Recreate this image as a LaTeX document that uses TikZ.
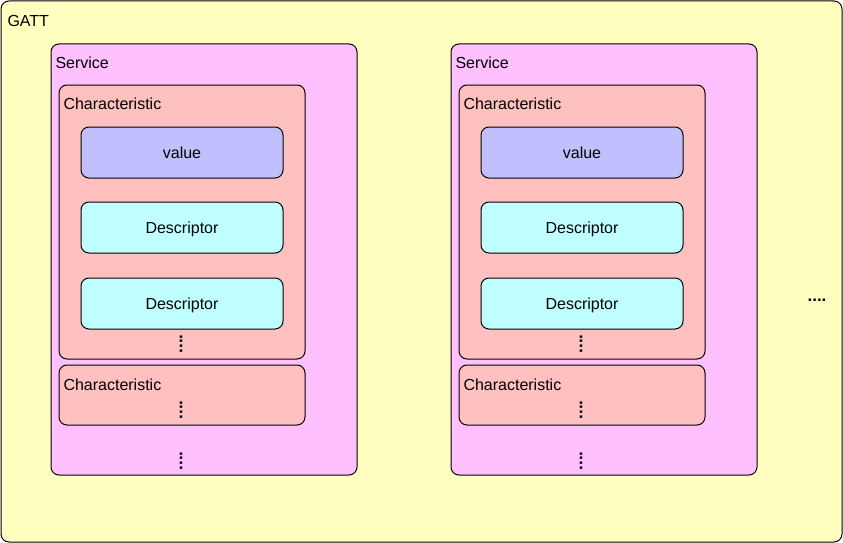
\documentclass[tikz,border=0pt]{standalone}
\usepackage{fontspec}
\setmainfont{Liberation Sans}
\usetikzlibrary{positioning}

\definecolor{gattyellow}{HTML}{FFFFC0}
\definecolor{servicepink}{HTML}{FFC0FF}
\definecolor{charred}{HTML}{FFC0C0}
\definecolor{valueblue}{HTML}{C0C0FF}
\definecolor{desccyan}{HTML}{C0FFFF}

\begin{document}
\begin{tikzpicture}[x=1pt,y=-1pt,line width=1pt,node distance=23pt,
    box/.style={draw,rounded corners=8pt,inner sep=0pt},
    gatt box/.style={box,fill=gattyellow,minimum width=841pt,minimum height=541pt},
    service box/.style={box,fill=servicepink,minimum width=306pt,minimum height=431pt},
    char box/.style={box,fill=charred,minimum width=246pt},
    value box/.style={box,fill=valueblue,minimum width=202pt,minimum height=51pt,text height=12.6pt,text depth=0pt},
    desc box/.style={box,fill=desccyan,minimum width=202pt,minimum height=51pt,text height=12.6pt,text depth=0pt},
    title/.style={anchor=west,inner sep=0pt},
    vdots/.style={rotate=90,inner sep=0pt,font=\fontsize{17}{18}\bfseries},
    every node/.style={font=\fontsize{16}{18}\selectfont}]

            \useasboundingbox (0,0) rectangle (843,543);

            % outer box
            \node[gatt box] (gatt) at (421.5,271.5) {};
            \node[title] (gattlabel) at (7,21) {GATT};

            % first service
            \node[service box] (srv1) at (204,259.5) {};
            \node[title] (srv1label) at (55,62.5) {Service};
            \node[char box,minimum height=274pt] (chA1) at (182,222) {};
            \node[title] (chA1label) at (63,103.5) {Characteristic};
            \node[value box] (val1) at (182,152.5) {value};
            \node[desc box] (descA1) [below = of val1] {Descriptor};
            \node[desc box] (descB1) [below = 24pt of descA1] {Descriptor};
            \node[vdots] (dotsA1) at (181,344) {....};
            \node[char box,minimum height=60pt] (chB1) [below = 5pt of chA1] {};
            \node[title] (chB1label) at (63,384.5) {Characteristic};
            \node[vdots] (dotsB1) at (181,410) {....};
            \node[vdots] (dotsC1) at (181,461) {....};

            % second service
            \node[service box] (srv2) [right = 93pt of srv1] {};
            \node[title] (srv2label) at (455,62.5) {Service};
            \node[char box,minimum height=274pt] (chA2) at (582,222) {};
            \node[title] (chA2label) at (463,103.5) {Characteristic};
            \node[value box] (val2) at (582,152.5) {value};
            \node[desc box] (descA2) [below = of val2] {Descriptor};
            \node[desc box] (descB2) [below = 24pt of descA2] {Descriptor};
            \node[vdots] (dotsA2) at (581,344) {....};
            \node[char box,minimum height=60pt] (chB2) [below = 5pt of chA2] {};
            \node[title] (chB2label) at (463,384.5) {Characteristic};
            \node[vdots] (dotsB2) at (581,410) {....};
            \node[vdots] (dotsC2) at (581,461) {....};

            % more services
            \node[inner sep=0pt,font=\fontsize{17}{18}\bfseries] (more) at (817,300) {....};
        \end{tikzpicture}
\end{document}
